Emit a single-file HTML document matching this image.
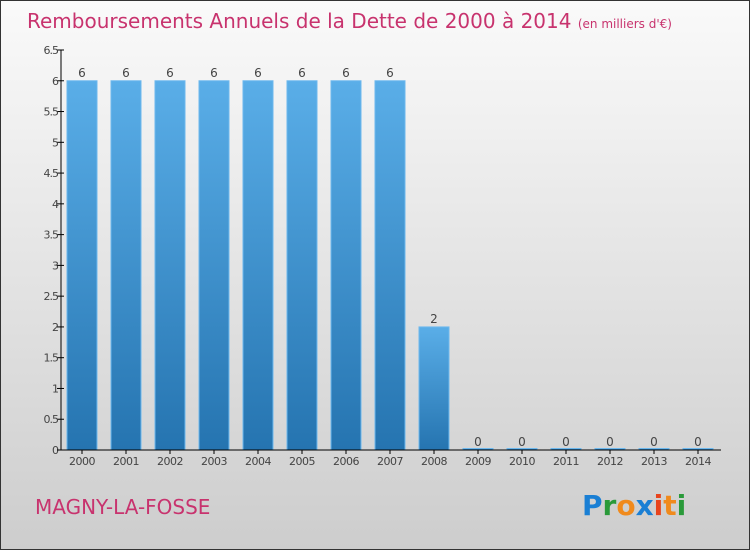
<!DOCTYPE html>
<html><head><meta charset="utf-8"><style>
body{margin:0}
svg{display:block;font-family:"DejaVu Sans","Liberation Sans",sans-serif}
</style></head><body>
<svg width="750" height="550" xmlns="http://www.w3.org/2000/svg">
<defs>
<linearGradient id="bg" x1="0" y1="0" x2="0" y2="1"><stop offset="0" stop-color="#fafafa"/><stop offset="1" stop-color="#cdcdcd"/></linearGradient>
<linearGradient id="bar" x1="0" y1="0" x2="0" y2="1"><stop offset="0" stop-color="#5aaee8"/><stop offset="1" stop-color="#2574b0"/></linearGradient>
</defs>
<rect x="0.5" y="0.5" width="749" height="549" fill="url(#bg)" stroke="#333"/>
<text x="27" y="28" font-size="20" fill="#c8336e">Remboursements Annuels de la Dette de 2000 à 2014 <tspan font-size="12">(en milliers d'€)</tspan></text>
<g id="yaxis"></g>
<g id="bars"></g>
<g id="xaxis"></g>
<text x="35" y="514" font-size="20" fill="#c8336e">MAGNY-LA-FOSSE</text>
<text x="582" y="515" font-size="28" font-weight="bold"><tspan fill="#1a7fd4">P</tspan><tspan fill="#2a9a3a">r</tspan><tspan fill="#f08a1c">o</tspan><tspan fill="#1a7fd4">x</tspan><tspan fill="#e8441c">i</tspan><tspan fill="#f08a1c">t</tspan><tspan fill="#2a9a3a">i</tspan></text>
</svg>
<script>
const categories=["2000","2001","2002","2003","2004","2005","2006","2007","2008","2009","2010","2011","2012","2013","2014"];
const values=[6,6,6,6,6,6,6,6,2,0,0,0,0,0,0];
const yTicks=[0,0.5,1,1.5,2,2.5,3,3.5,4,4.5,5,5.5,6,6.5];
const NS="http://www.w3.org/2000/svg";
const y0=450,yTop=50,yMax=6.5,x0=61;
const ys=v=>y0-(v/yMax)*(y0-yTop);
const xs=i=>67+44*i;
const bw=30;
function mk(t,a,p){const e=document.createElementNS(NS,t);for(const k in a)e.setAttribute(k,a[k]);p.appendChild(e);return e;}
const ya=document.getElementById('yaxis'),ba=document.getElementById('bars'),xa=document.getElementById('xaxis');
mk('line',{x1:x0,y1:yTop,x2:x0,y2:y0,stroke:'#000'},ya);
yTicks.forEach(t=>{
 const l=mk('line',{x1:x0-4,x2:x0+3,y1:ys(t),y2:ys(t),stroke:'#000'},ya);
 
 
 const tx=mk('text',{x:x0-3,y:ys(t)+4,'text-anchor':'end','font-size':11,fill:'#444','letter-spacing':'-1'},ya);
 tx.textContent=String(t);
 
 
});
values.forEach((v,i)=>{
 const h=Math.max(y0-ys(v),1.5);
 const r=mk('rect',{x:xs(i),y:y0-h,width:bw,height:h,fill:'url(#bar)',stroke:'#6cb8ee','stroke-width':1},ba);
 
 
 const t=mk('text',{x:xs(i)+bw/2,y:ys(v)-4,'text-anchor':'middle','font-size':12,fill:'#444'},ba);
 t.textContent=String(v);
 
 
});
mk('line',{x1:x0-4,y1:y0,x2:721,y2:y0,stroke:'#000'},xa);
categories.forEach((c,i)=>{
 const cx=xs(i)+bw/2;
 mk('line',{x1:cx,x2:cx,y1:y0,y2:y0+4,stroke:'#000'},xa);
 const t=mk('text',{x:cx,y:y0+15,'text-anchor':'middle','font-size':11,fill:'#444','letter-spacing':'-0.5'},xa);
 t.textContent=c;
 
 
});
</script>
</body></html>
